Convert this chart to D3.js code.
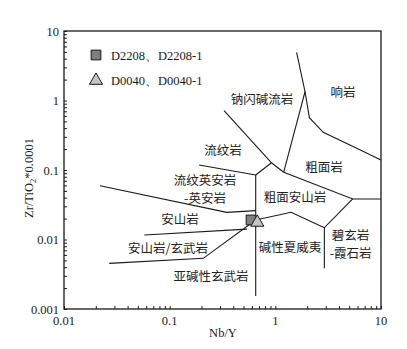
<!DOCTYPE html>
<html><head><meta charset="utf-8">
<script src="https://cdn.jsdelivr.net/npm/d3@7/dist/d3.min.js"></script>
<style>body{margin:0;background:#fff}svg{display:block}</style>
</head><body><svg id="c" width="407" height="349"></svg>
<script>
// ---- data ----
const xTicks = [0.01, 0.1, 1, 10];
const xTickLabels = ["0.01", "0.1", "1", "10"];
const yTicks = [0.001, 0.01, 0.1, 1, 10];
const yTickLabels = ["0.001", "0.01", "0.1", "1", "10"];
const xTitle = "Nb/Y";
const yTitle = "Zr/TiO";

// field boundaries [Nb/Y, Zr/TiO2*0.0001]
const bVertical = [[0.652, 0.0847], [0.652, 0.00154]];
const bRhyoliteBase = [[0.19, 0.118], [0.652, 0.0847]];
const bRhyoliteStep = [[0.652, 0.0847], [0.92, 0.127]];
const bComendite = [[0.327, 0.713], [0.92, 0.127], [1.2, 0.093]];
const bTrachyteWest = [[1.2, 0.093], [1.91, 1.34], [1.59, 4.93]];
const bPhonolite = [[1.91, 1.34], [2.1, 0.566], [2.84, 0.348], [5.89, 0.205], [10, 0.139]];
const bTrachyteBase = [[1.2, 0.093], [5.4, 0.0383], [10, 0.0383]];
const bBasaniteTop = [[5.4, 0.0383], [2.91, 0.0148], [2.91, 0.00386]];
const bAlkBasaltTop = [[2.91, 0.0148], [1.41, 0.0246], [0.652, 0.0191]];
const bAndesiteTop = [[0.0219, 0.0594], [0.347, 0.0246], [0.652, 0.026]];
const bBasAndTop = [[0.0576, 0.0116], [0.54, 0.0141]];
const bSubalkTop = [[0.0268, 0.00454], [0.208, 0.00536], [0.652, 0.0191]];
const boundaries = [bVertical, bRhyoliteBase, bRhyoliteStep, bComendite, bTrachyteWest,
  bPhonolite, bTrachyteBase, bBasaniteTop, bAlkBasaltTop, bAndesiteTop, bBasAndTop, bSubalkTop];

// field names (lines split by "\n") and label anchor [Nb/Y, Zr/TiO2] (centre / first baseline)
const fieldNames = ["响岩", "钠闪碱流岩", "流纹岩", "粗面岩", "流纹英安岩\n-英安岩", "粗面安山岩",
  "安山岩", "安山岩/玄武岩", "碱性夏威夷", "碧玄岩\n-霞石岩", "亚碱性玄武岩"];
const fieldX = [4.37, 0.748, 0.32, 2.89, 0.216, 1.535, 0.125, 0.0964, 1.376, 5.15, 0.246];
const fieldY = [1.13, 0.905, 0.162, 0.0951, 0.0608, 0.0352, 0.01644, 0.0065, 0.00671, 0.00984, 0.00249];

// samples
const sampleNames = ["D2208、D2208-1", "D0040、D0040-1"];
const sampleX = [0.589, 0.675];
const sampleY = [0.0191, 0.0176];
const sampleFill = ["#7f7f7f", "#c4c4c4"];

// ---- chart ----
const svg = d3.select("#c");
const L = 64, R = 381, T = 31, B = 309;
const x = d3.scaleLog().domain([0.01, 10]).range([L, R]);
const y = d3.scaleLog().domain([0.001, 10]).range([B, T]);
const serif = "'Liberation Serif','DejaVu Serif',serif";
const cjk = "'Noto Sans CJK SC','Noto Sans CJK JP',sans-serif";
const ink = "#1a1a1a";

// minor/major ticks inward
const xAll = [], yAll = [];
for (let e = -2; e < 1; e++) for (let m = 1; m < 10; m++) xAll.push(m * Math.pow(10, e));
xAll.push(10);
for (let e = -3; e < 1; e++) for (let m = 1; m < 10; m++) yAll.push(m * Math.pow(10, e));
yAll.push(10);

const xAxis = d3.axisTop(x).tickValues(xAll).tickSize(3).tickFormat("");
const gx = svg.append("g").attr("transform", `translate(0,${B})`).call(xAxis);
const yAxis = d3.axisRight(y).tickValues(yAll).tickSize(3).tickFormat("");
const gy = svg.append("g").attr("transform", `translate(${L},0)`).call(yAxis);
[gx, gy].forEach(g => { g.select(".domain").remove(); g.selectAll("line").attr("stroke", ink).attr("stroke-width", 1); });

svg.append("rect").attr("x", L).attr("y", T).attr("width", R - L).attr("height", B - T)
  .attr("fill", "none").attr("stroke", ink).attr("stroke-width", 1.3);

// tick labels
svg.selectAll(".xl").data(xTicks).enter().append("text")
  .attr("x", d => x(d)).attr("y", B + 16).attr("text-anchor", "middle")
  .attr("font-family", serif).attr("font-size", 12.5).attr("fill", ink)
  .text((d, i) => xTickLabels[i]);
svg.selectAll(".yl").data(yTicks).enter().append("text")
  .attr("x", L - 5).attr("y", d => y(d) + 4.5).attr("text-anchor", "end")
  .attr("font-family", serif).attr("font-size", 12.5).attr("fill", ink)
  .text((d, i) => yTickLabels[i]);

svg.append("text").attr("x", (L + R) / 2 + 0.5).attr("y", 337).attr("text-anchor", "middle")
  .attr("font-family", serif).attr("font-size", 12.5).attr("fill", ink).text(xTitle);
const yt = svg.append("text").attr("transform", "translate(33,178) rotate(-90)")
  .attr("text-anchor", "middle").attr("font-family", serif).attr("font-size", 12.5).attr("fill", ink);
yt.append("tspan").text(yTitle);
yt.append("tspan").attr("font-size", 8.5).attr("dy", 3).text("2");
yt.append("tspan").attr("dy", -3).text("*0.0001");

// boundaries
const line = d3.line().x(d => x(d[0])).y(d => y(d[1]));
svg.selectAll(".bd").data(boundaries).enter().append("path")
  .attr("d", line).attr("fill", "none").attr("stroke", ink).attr("stroke-width", 1.1);

// field labels
svg.selectAll(".fl").data(fieldNames).enter().append("text")
  .attr("x", (d, i) => x(fieldX[i])).attr("y", (d, i) => y(fieldY[i]))
  .attr("text-anchor", "middle").attr("font-family", cjk).attr("font-size", 12.5)
  .attr("fill", "#222222")
  .each(function (d, i) {
    const t = d3.select(this);
    d.split("\n").forEach((s, k) => {
      t.append("tspan").attr("x", x(fieldX[i])).attr("dy", k ? 18.3 : 0).text(s);
    });
  });

// samples
const sym = [d3.symbolSquare, d3.symbolTriangle];
svg.selectAll(".pt").data(sampleX).enter().append("path")
  .attr("transform", (d, i) => `translate(${x(d)},${y(sampleY[i])})`)
  .attr("d", (d, i) => d3.symbol().type(sym[i]).size(i === 0 ? 95 : 75)())
  .attr("fill", (d, i) => sampleFill[i]).attr("stroke", ink).attr("stroke-width", 1);

// legend
sampleNames.forEach((n, i) => {
  const ly = 55 + i * 24.5;
  svg.append("path").attr("transform", `translate(96,${ly + (i ? 1 : 0)})`)
    .attr("d", d3.symbol().type(sym[i]).size(i === 0 ? 95 : 75)())
    .attr("fill", sampleFill[i]).attr("stroke", ink).attr("stroke-width", 1);
  svg.append("text").attr("x", 111).attr("y", ly + 5).attr("font-family", serif)
    .attr("font-size", 12.5).attr("fill", ink).text(n);
});
</script></body></html>
